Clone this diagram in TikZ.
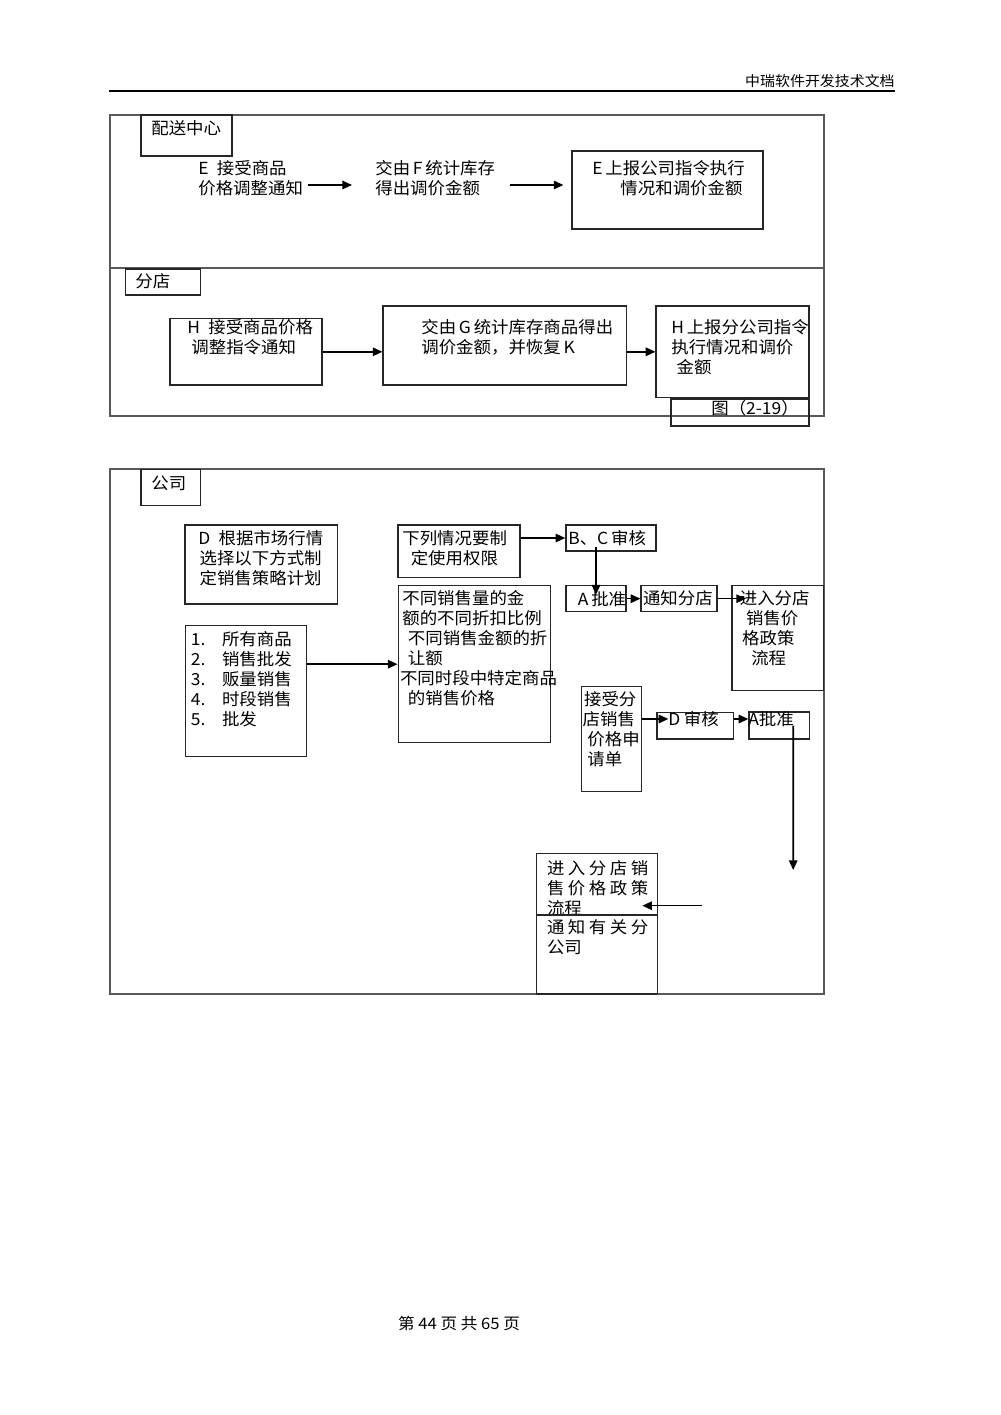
\documentclass[tikz,border=0pt]{standalone}
\usepackage{fontspec}
\newfontfamily\cjk[FakeStretch=1.05]{Noto Sans CJK SC}
\usetikzlibrary{arrows.meta}
\newcommand\wg{\hspace{2pt}}
\newcommand\nr[1]{\makebox[17.7pt][l]{#1}}
\begin{document}
\begin{tikzpicture}[x=0.02cm, y=-0.02cm,
  bx/.style={draw=black!85, line width=0.7pt, inner sep=0pt},
  lbl/.style={anchor=west, inner sep=0pt, align=left, font=\cjk\fontsize{9.45}{11.3}\selectfont},
  link/.style={line width=0.9pt, -{Triangle[length=5.5pt,width=4.8pt]}},
  frame/.style={draw=black!65, line width=0.6pt}]
\fill[white] (0,0) rectangle (1000,1415);
\useasboundingbox (0,0) rectangle (1000,1415);

% page head
\node[lbl, anchor=east, font=\cjk\fontsize{8.1}{9}\selectfont] (hdr) at (895,81) {中瑞软件开发技术文档};
\draw[line width=1.1pt] (109,91) -- (895,91);

% figure 2-19
\draw[frame] (110,115) rectangle (824,416);
\draw[frame] (110,268) -- (824,268);
\node[bx, minimum width=1.82cm, minimum height=0.82cm] (dc0) at (186.5,135.5) {};
\node[lbl] (dc0t) at (151,128) {配送中心};
\node[lbl] (dc1) at (198,178) {E\enspace 接受商品\\价格调整通知};
\node[lbl] (dc2) at (375,178) {交由\,F\,统计库存\\得出调价金额};
\node[bx, minimum width=3.82cm, minimum height=1.56cm] (dc3) at (667.5,190) {};
\node[lbl] (dc3t) at (592,178) {E\,上报公司指令执行\\\hspace*{16pt}情况和调价金额};
\draw[link, shorten <=0.09cm, shorten >=0.46cm] ([yshift=-0.14cm]dc1.east) -- ([yshift=-0.14cm]dc2.west);
\draw[link, shorten <=0.3cm] ([yshift=-0.14cm]dc2.east) -- ([xshift=-0.16cm,yshift=-0.14cm]dc2.east -| dc3.west);

\node[bx, minimum width=1.49cm, minimum height=0.52cm] (br0) at (163,282) {};
\node[lbl] (br0t) at (135,281) {分店};
\node[bx, minimum width=3.04cm, minimum height=1.33cm] (br1) at (246,351.8) {};
\node[lbl] (br1t) at (187,337.5) {H\enspace 接受商品价格\\\hspace*{2.3pt}调整指令通知};
\node[bx, minimum width=4.87cm, minimum height=1.58cm] (br2) at (504.8,345.5) {};
\node[lbl] (br2t) at (421,337.5) {交由\,G\,统计库存商品得出\\调价金额，并恢复\,K};
\node[bx, minimum width=3.06cm, minimum height=1.83cm] (br3) at (732.5,351.8) {};
\node[lbl] (br3t) at (671,347.2) {H\,上报分公司指令\\执行情况和调价\\\hspace*{3pt}金额};
\node[bx, minimum width=2.76cm, minimum height=0.54cm] (fig) at (740,412.5) {};
\node[lbl] (figt) at (711,408) {图（2-19）};
\draw[link] (br1.east) -- (br1.east -| br2.west);
\draw[link] (br1.east -| br2.east) -- (br1.east -| br3.west);

% company
\draw[frame] (110,469) rectangle (824,994);
\node[bx, minimum width=1.19cm, minimum height=0.72cm] (co0) at (170.8,487.6) {};
\node[lbl] (co0t) at (151,483) {公司};
\node[bx, minimum width=3.05cm, minimum height=1.58cm] (co1) at (261.2,564.5) {};
\node[lbl] (co1t) at (198,557.8) {D\enspace 根据市场行情\\\hspace*{0.7pt}选择以下方式制\\\hspace*{0.7pt}定销售策略计划};
\node[bx, minimum width=2.43cm, minimum height=2.62cm] (co2) at (245.9,691.2) {};
\node[lbl] (co2t) at (190.6,679) {\nr{1.}所有商品\\\nr{2.}销售批发\\\nr{3.}贩量销售\\\nr{4.}时段销售\\\nr{5.}批发};
\node[bx, minimum width=2.44cm, minimum height=1.05cm] (co3) at (459,551.2) {};
\node[lbl] (co3t) at (402,548) {下列情况要制\\\hspace*{4.8pt}定使用权限};
\node[bx, minimum width=3.05cm, minimum height=3.14cm] (co4) at (474.4,664.2) {};
\node[lbl] (co4t) at (399.7,648.3) {\hspace*{1.3pt}不同销售量的金\\\hspace*{1.3pt}额的不同折扣比例\\\hspace*{4.5pt}不同销售金额的折\\\hspace*{4.5pt}让额\\不同时段中特定商品\\\hspace*{4.5pt}的销售价格};
\node[bx, minimum width=1.80cm, minimum height=0.52cm] (co5) at (610.9,538) {};
\node[lbl] (co5t) at (568,538) {B、C\,审核};
\node[bx, minimum width=1.2cm, minimum height=0.52cm] (co6) at (596,598.7) {};
\node[lbl] (co6t) at (577.6,598.7) {A\,批准};
\node[bx, minimum width=1.52cm, minimum height=0.52cm] (co7) at (679,598.7) {};
\node[lbl] (co7t) at (642.7,598.7) {通知分店};
\node[bx, minimum width=1.83cm, minimum height=2.09cm] (co8) at (777.8,637.9) {};
\node[lbl] (co8t) at (739.5,628.3) {进入分店\\\hspace*{3.5pt}销售价\\\hspace*{1.3pt}格政策\\\hspace*{6.5pt}流程};
\node[bx, minimum width=1.21cm, minimum height=2.09cm] (co9) at (611.4,738.9) {};
\node[lbl] (co9t) at (582.3,729.2) {\hspace*{0.8pt}接受分\\店销售\\\hspace*{2.7pt}价格申\\\hspace*{2.7pt}请单};
\node[bx, minimum width=1.53cm, minimum height=0.53cm] (co10) at (695.2,725.7) {};
\node[lbl] (co10t) at (668,719) {D\hspace{2pt}审核};
\node[bx, minimum width=1.21cm, minimum height=0.54cm] (co11) at (779.2,725.5) {};
\node[lbl] (co11t) at (748,719) {A批准};
\node[bx, minimum width=2.42cm, minimum height=1.23cm] (co12) at (597.2,884.2) {};
\node[lbl] (co12t) at (546.7,887.9) {进\wg 入\wg 分\wg 店\wg 销\\售\wg 价\wg 格\wg 政\wg 策\\流程};
\node[bx, minimum width=2.42cm, minimum height=1.58cm] (co13) at (597.2,954.5) {};
\node[lbl] (co13t) at (546.7,937.5) {通\wg 知\wg 有\wg 关\wg 分\\公司};
\coordinate (dn) at (793.2,870);
\coordinate (bk) at (701.7,905.7);

\draw[link] (co2.east |- co4.west) -- (co4.west);
\draw[link] (co3.east |- co5.west) -- (co5.west);
\draw[link] ([yshift=0.1cm]co5.south -| co6.north) -- ([yshift=-0.19cm]co6.north);
\draw[link] (co6.east) -- (co7.west);
\draw[link] (co7.east) -- ([xshift=0.29cm]co8.west |- co7.east);
\draw[link] (co9.east |- co10t.west) -- ([xshift=0.24cm]co10.west |- co10t.west);
\draw[link] (co10.east |- co10t.west) -- (co11.west |- co10t.west);
\draw[link] ([xshift=0.28cm]co11.center) -- (dn);
\draw[link] (bk) -- ([xshift=-0.32cm]bk -| co12.east);

% page foot
\node[lbl, anchor=center, font=\cjk\fontsize{9}{11}\selectfont] (pg) at (459,1323) {第 44 页 共 65 页};
\end{tikzpicture}
\end{document}
